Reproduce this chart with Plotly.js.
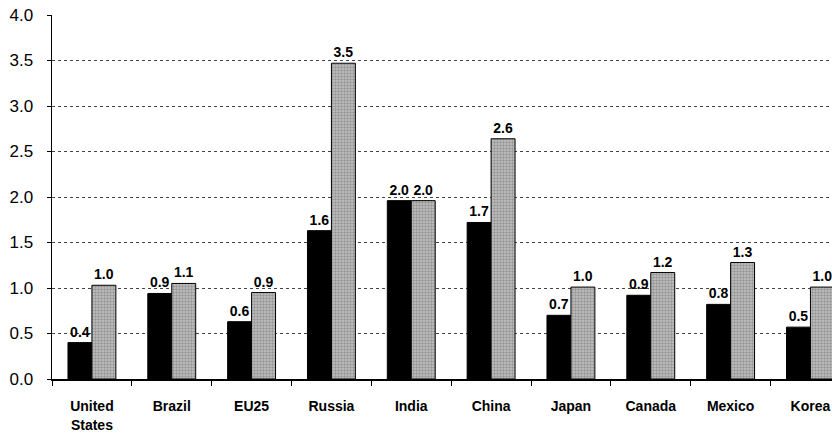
<!DOCTYPE html>
<html>
<head>
<meta charset="utf-8">
<script src="https://cdn.plot.ly/plotly-3.0.1.min.js"></script>
<style>html,body{margin:0;padding:0;background:#fff;}#chart{width:832px;height:433px;}</style>
</head>
<body>
<div id="chart"></div>
<script>
var categories = ["United<br>States", "Brazil", "EU25", "Russia", "India", "China", "Japan", "Canada", "Mexico", "Korea"];
var seriesA = [0.40, 0.94, 0.63, 1.63, 1.96, 1.72, 0.70, 0.92, 0.82, 0.57];
var seriesB = [1.03, 1.05, 0.95, 3.47, 1.96, 2.64, 1.01, 1.17, 1.28, 1.01];
var labelsA = ["0.4", "0.9", "0.6", "1.6", "2.0", "1.7", "0.7", "0.9", "0.8", "0.5"];
var labelsB = ["1.0", "1.1", "0.9", "3.5", "2.0", "2.6", "1.0", "1.2", "1.3", "1.0"];
var yTicks = [0, 0.5, 1, 1.5, 2, 2.5, 3, 3.5, 4];
var yTickText = ["0.0", "0.5", "1.0", "1.5", "2.0", "2.5", "3.0", "3.5", "4.0"];

var labelFont = {family: "Liberation Sans, Arial, sans-serif", size: 14, color: "#000", weight: "bold"};

var traces = [
  {
    type: "bar", x: categories, y: seriesA, text: labelsA, textposition: "outside",
    textfont: labelFont, cliponaxis: false,
    marker: {color: "#000", line: {color: "#000", width: 1}},
    hoverinfo: "none"
  },
  {
    type: "bar", x: categories, y: seriesB, text: labelsB, textposition: "outside",
    textfont: labelFont, cliponaxis: false,
    marker: {color: "#aaaaaa", line: {color: "#000", width: 1},
      pattern: {shape: ".", size: 3, solidity: 0.5, fgcolor: "#666", bgcolor: "#c4c4c4", fillmode: "overlay"}},
    hoverinfo: "none"
  }
];

var layout = {
  width: 832, height: 433,
  margin: {l: 52, r: 0, t: 15, b: 54},
  paper_bgcolor: "#fff", plot_bgcolor: "#fff",
  showlegend: false,
  barmode: "group",
  bargap: 0.4,
  bargroupgap: 0,
  font: {family: "Liberation Sans, Arial, sans-serif", color: "#000"},
  xaxis: {
    type: "category",
    range: [-0.5, 9.27],
    showline: true, linecolor: "#000", linewidth: 1.5,
    ticks: "outside", tickson: "boundaries", ticklen: 5, tickcolor: "#000",
    ticklabelstandoff: 14,
    tickfont: {family: "Liberation Sans, Arial, sans-serif", size: 14, color: "#000", weight: "bold"},
    showgrid: false, zeroline: false, fixedrange: true
  },
  yaxis: {
    range: [0, 4],
    tickvals: yTicks, ticktext: yTickText,
    showline: true, linecolor: "#000", linewidth: 1.5,
    ticks: "outside", ticklen: 4, tickcolor: "#000",
    ticklabelstandoff: 10,
    tickfont: {family: "Liberation Sans, Arial, sans-serif", size: 17, color: "#000"},
    showgrid: true, gridcolor: "#444", griddash: "dot", gridwidth: 1,
    zeroline: false, fixedrange: true
  }
};

Plotly.newPlot("chart", traces, layout, {staticPlot: true});
</script>
</body>
</html>
